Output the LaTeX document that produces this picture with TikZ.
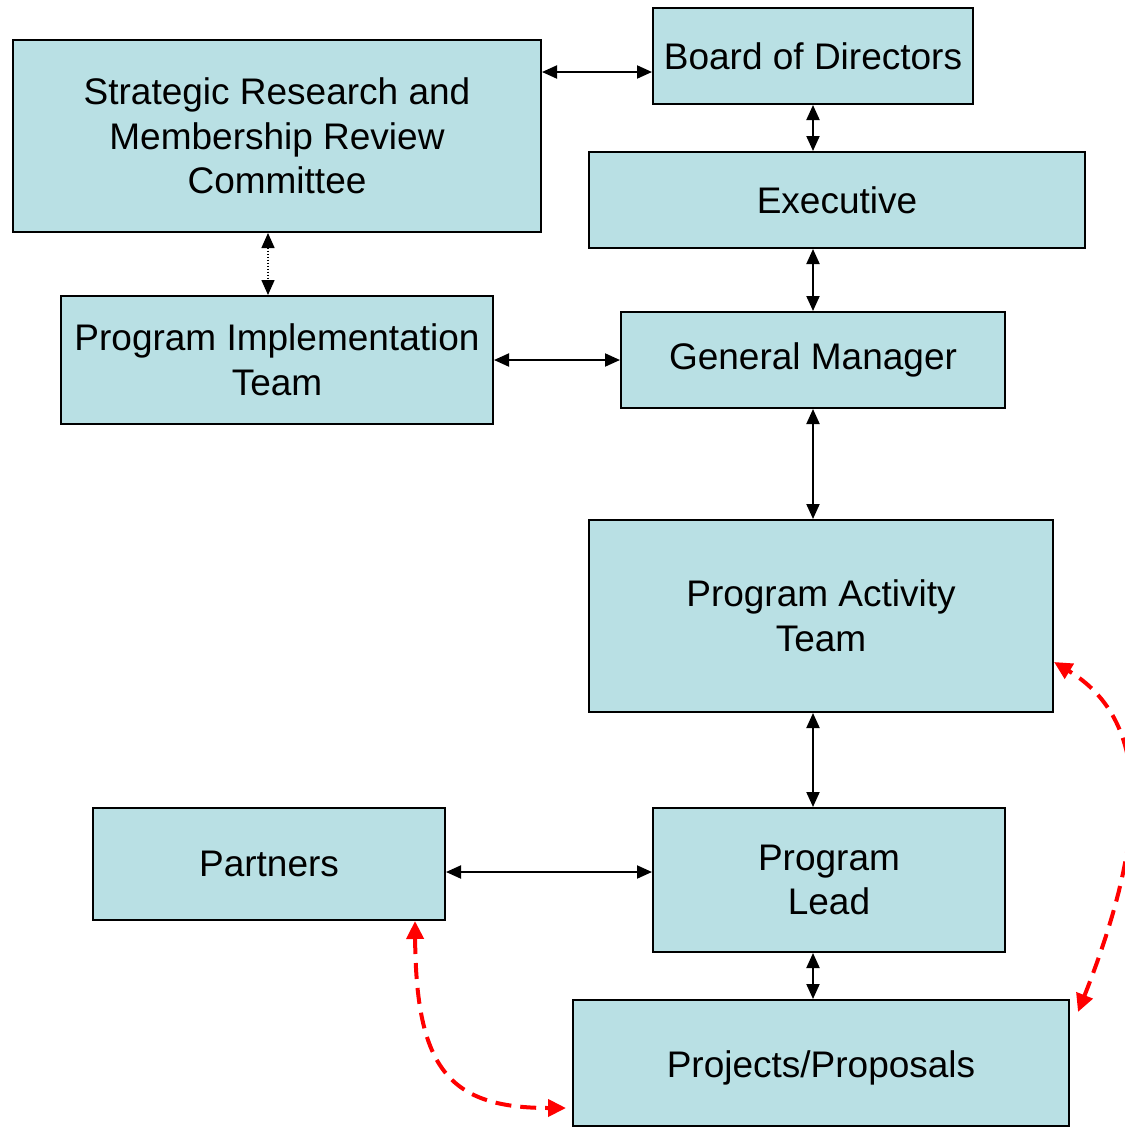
\documentclass[tikz,border=0pt]{standalone}
\usepackage{fontspec}
\setmainfont{Liberation Sans}
\usetikzlibrary{arrows.meta,calc}
\definecolor{boxfill}{RGB}{185,224,228}
\begin{document}
\begin{tikzpicture}[x=1pt,y=-1pt,
  box/.style={draw=black,line width=2pt,fill=boxfill,inner sep=0pt,align=center,
    font=\fontsize{37}{44.5}\selectfont},
  link/.style={line width=2pt,{Triangle[length=15pt,width=13pt]}-{Triangle[length=15pt,width=13pt]}},
  dotlink/.style={link,dash pattern=on 1.5pt off 1.5pt,line width=1.5pt},
  rlink/.style={red,line width=4pt,dash pattern=on 16pt off 9pt,
    {Triangle[length=18pt,width=17pt]}-{Triangle[length=18pt,width=17pt]}}]
\useasboundingbox (0,0) rectangle (1125,1128);
\clip (0,0) rectangle (1125,1128);
\node[box,minimum width=528pt,minimum height=192pt] (srm) at (277,136) {Strategic Research and\\Membership Review\\Committee};
\node[box,minimum width=320pt,minimum height=96pt] (board) at (813,56) {Board of Directors};
\node[box,minimum width=496pt,minimum height=96pt] (exec) at (837,200) {Executive};
\node[box,minimum width=432pt,minimum height=128pt] (pit) at (277,360) {Program Implementation\\Team};
\node[box,minimum width=384pt,minimum height=96pt] (gm) at (813,360) {General Manager};
\node[box,minimum width=464pt,minimum height=192pt] (pat) at (821,616) {Program Activity\\Team};
\node[box,minimum width=352pt,minimum height=112pt] (partners) at (269,864) {Partners};
\node[box,minimum width=352pt,minimum height=144pt] (pl) at (829,880) {Program\\Lead};
\node[box,minimum width=496pt,minimum height=126pt] (pp) at (821,1063) {\rule{0pt}{37pt}Projects/Proposals};
% black links
\draw[link] (srm.east |- 0,72) -- (board.west |- 0,72);
\draw[link] (board.south) -- (board.south |- exec.north);
\draw[dotlink] (268,0 |- srm.south) -- (268,0 |- pit.north);
\draw[link] (gm.north |- exec.south) -- (gm.north);
\draw[link] (pit.east) -- (gm.west);
\draw[link] (gm.south) -- (gm.south |- pat.north);
\draw[link] (gm.south |- pat.south) -- (gm.south |- pl.north);
\draw[link] (partners.east |- 0,872) -- (pl.west |- 0,872);
\draw[link] (gm.south |- pl.south) -- (gm.south |- pp.north);
% red dashed links
\coordinate (r1) at (415,0 |- partners.south);
\coordinate (r2) at ([xshift=-6pt]pp.west |- 0,1108);
\draw[rlink] (r1) .. controls (416,1070) and (450,1108) .. (r2);
\coordinate (r3) at (1078,1012);
\coordinate (r4) at (pat.east |- 0,662);
\draw[rlink] (r3) .. controls (1150,830) and (1150,720) .. (r4);
\end{tikzpicture}
\end{document}
